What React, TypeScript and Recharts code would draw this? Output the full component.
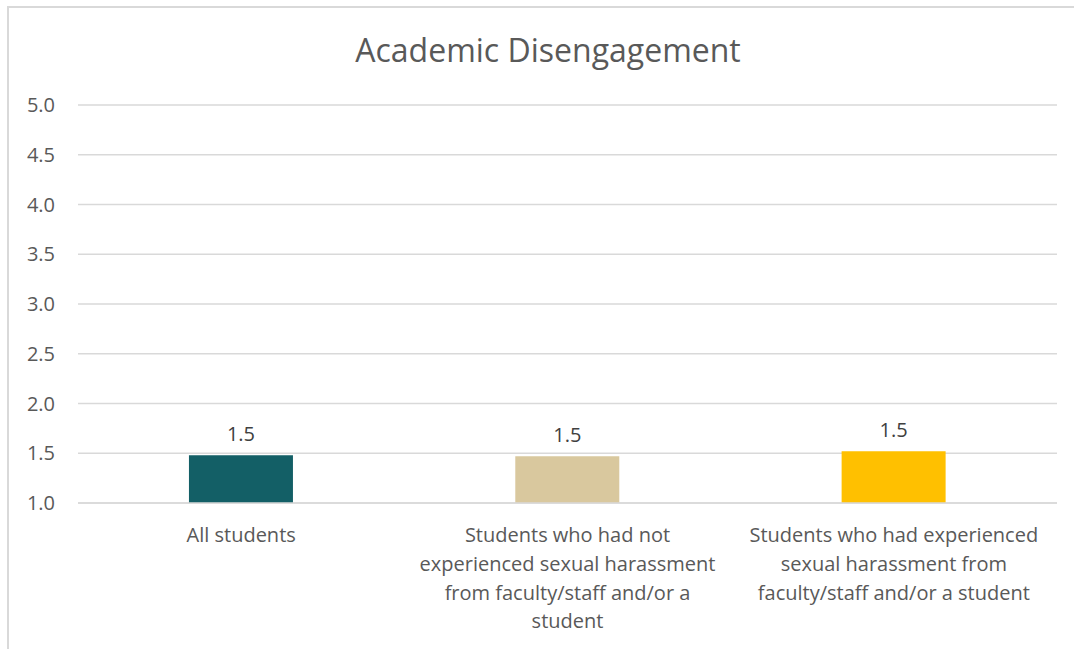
import React from 'react';
import { BarChart, Bar, XAxis, YAxis, CartesianGrid, Cell, LabelList } from 'recharts';

// Chart data
const categories = [
  'All students',
  'Students who had not experienced sexual harassment from faculty/staff and/or a student',
  'Students who had experienced sexual harassment from faculty/staff and/or a student',
];
const categoryLines = [
  ['All students'],
  ['Students who had not', 'experienced sexual harassment', 'from faculty/staff and/or a', 'student'],
  ['Students who had experienced', 'sexual harassment from', 'faculty/staff and/or a student'],
];
const scores = [1.48, 1.47, 1.52];
const barColors = ['#135f66', '#d9c89e', '#ffc000'];
const yTicks = [1.0, 1.5, 2.0, 2.5, 3.0, 3.5, 4.0, 4.5, 5.0];

const data = categories.map((name, i) => ({ name, score: scores[i] }));

const FONT = '"Open Sans", "Noto Sans", sans-serif';

const CategoryTick = (props: any) => {
  const { x, y, payload, index } = props;
  const lines = categoryLines[index] || [payload.value];
  return (
    <g transform={`translate(${x},${y})`}>
      <text textAnchor="middle" fill="#595959" fontSize={20} fontFamily={FONT}>
        {lines.map((line: string, i: number) => (
          <tspan key={i} x={0} y={i * 28.7} dy="0.36em">
            {line}
          </tspan>
        ))}
      </text>
    </g>
  );
};

export default function App() {
  return (
    <div style={{ position: 'absolute', left: 0, top: 0, width: 1074, height: 649, background: '#fff', overflow: 'hidden' }}>
      {/* chart frame, extends past the right and bottom edges */}
      <div
        style={{
          position: 'absolute',
          left: 7,
          top: 6,
          width: 1100,
          height: 700,
          border: '2px solid #d9d9d9',
          boxSizing: 'border-box',
        }}
      />
      <div
        style={{
          position: 'absolute',
          left: 0,
          top: 28,
          width: 1096,
          textAlign: 'center',
          fontFamily: FONT,
          fontSize: 32,
          lineHeight: '44px',
          color: '#595959',
        }}
      >
        Academic Disengagement
      </div>
      <div style={{ position: 'absolute', left: 0, top: 0 }}>
        <BarChart
          width={1074}
          height={649}
          data={data}
          margin={{ top: 105, right: 17, bottom: 0, left: 0 }}
          barCategoryGap="34%"
        >
          <CartesianGrid vertical={false} stroke="#d9d9d9" strokeWidth={1.5} />
          <XAxis
            dataKey="name"
            axisLine={{ stroke: '#d9d9d9', strokeWidth: 1.5 }}
            tickLine={false}
            interval={0}
            height={146}
            tick={<CategoryTick />}
            tickSize={0}
            tickMargin={32}
          />
          <YAxis
            domain={[1, 5]}
            ticks={yTicks}
            width={78}
            axisLine={false}
            tickLine={false}
            tickSize={0}
            tickMargin={23}
            tickFormatter={(v: number) => v.toFixed(1)}
            tick={{ fill: '#595959', fontSize: 20, fontFamily: FONT }}
          />
          <Bar dataKey="score" isAnimationActive={false}>
            {data.map((d, i) => (
              <Cell key={d.name} fill={barColors[i]} />
            ))}
            <LabelList
              dataKey="score"
              position="top"
              offset={14}
              formatter={(v: any) => Number(v).toFixed(1)}
              style={{ fill: '#404040', fontSize: 20, fontFamily: FONT }}
            />
          </Bar>
        </BarChart>
      </div>
    </div>
  );
}
